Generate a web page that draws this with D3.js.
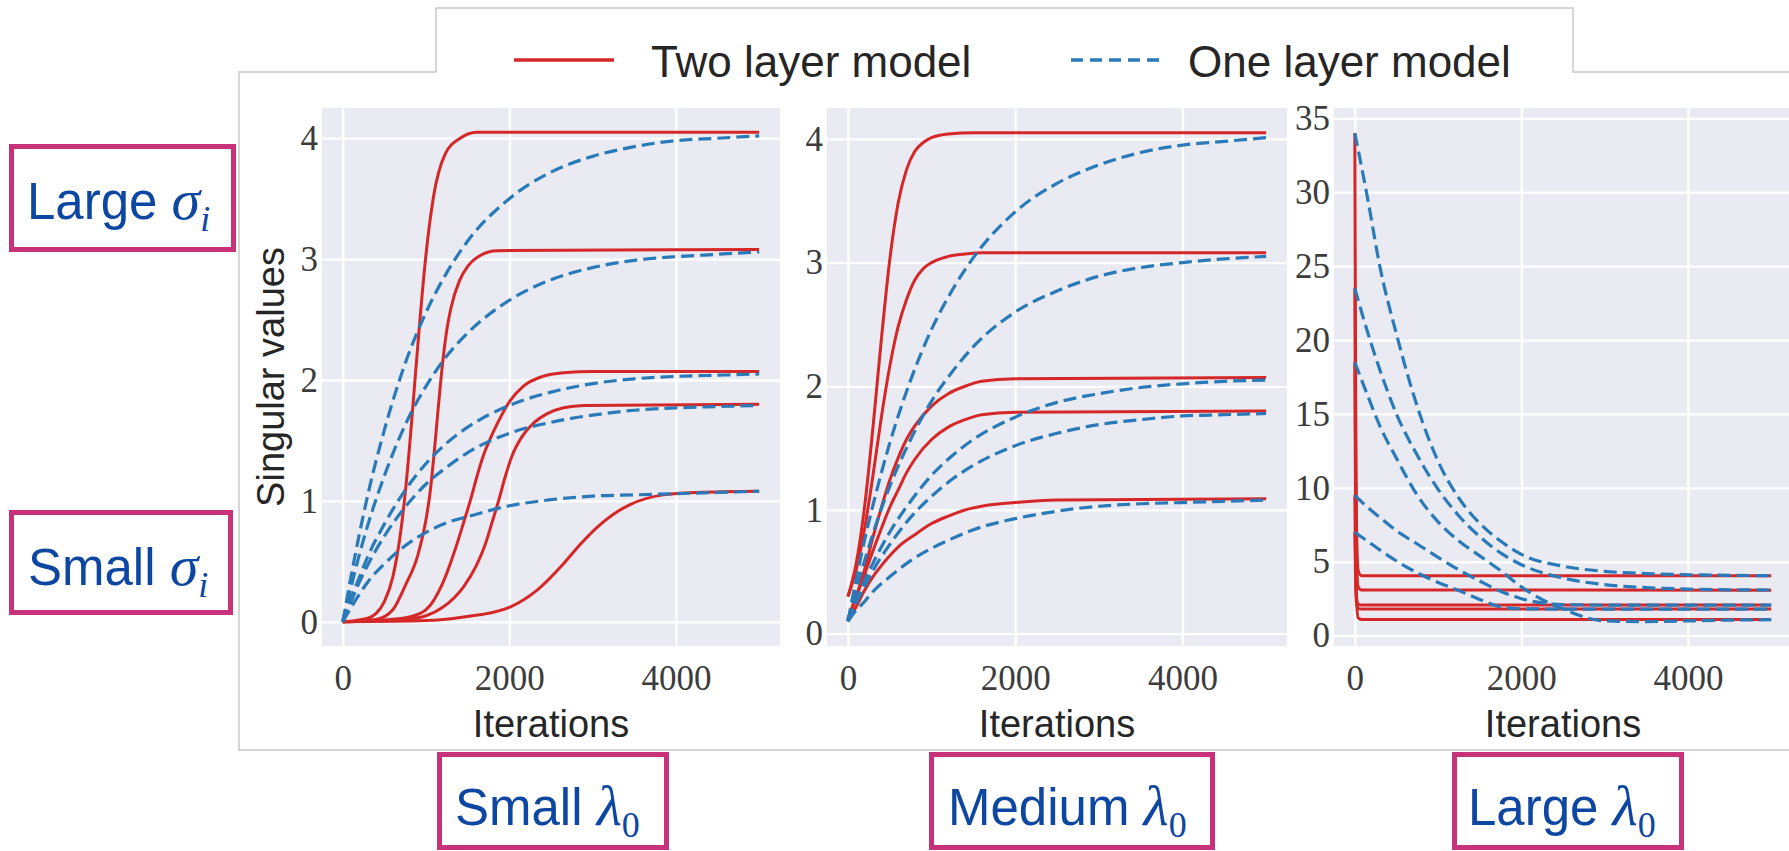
<!DOCTYPE html>
<html>
<head>
<meta charset="utf-8">
<script src="https://cdn.jsdelivr.net/npm/d3@7"></script>
<style>
  body { margin: 0; background: #fff; }
  svg { display: block; }
</style>
</head>
<body>
<svg id="chart" width="1789" height="851"></svg>
<script>
// ---- data ----
const xTicks = [0, 2000, 4000];
const yTicksSmall = [0, 1, 2, 3, 4];
const yTicksLarge = [0, 5, 10, 15, 20, 25, 30, 35];
const legendLabels = ['Two layer model', 'One layer model'];
const columnLabels = ['Small', 'Medium', 'Large'];
const rowLabels = ['Large', 'Small'];

// iterations at which the one layer curves were read
const iterOne = [0, 100, 200, 300, 500, 750, 1000, 1250, 1500, 2000, 2500, 3000, 3500, 4000, 4500, 5000];
const iterLarge = [0, 150, 300, 500, 750, 1000, 1250, 1500, 1750, 2000, 2500, 3000, 3500, 4000, 4500, 5000];

// small lambda0 : [iteration, singular value]
const smallTwoLayer = [
  [[0, 0], [300, 0.03], [400, 0.07], [500, 0.17], [600, 0.37], [700, 0.77], [750, 1.07], [810, 1.52], [870, 2.03], [930, 2.53], [990, 2.98], [1090, 3.52], [1230, 3.87], [1410, 4.0], [1610, 4.05], [5000, 4.05]],
  [[0, 0], [400, 0.02], [600, 0.1], [750, 0.3], [900, 0.55], [1000, 0.85], [1050, 1.08], [1100, 1.42], [1150, 1.8], [1200, 2.15], [1250, 2.42], [1300, 2.6], [1400, 2.82], [1500, 2.94], [1650, 3.03], [1850, 3.07], [5000, 3.08]],
  [[0, 0], [500, 0.015], [800, 0.04], [1000, 0.1], [1200, 0.32], [1350, 0.6], [1450, 0.82], [1530, 1.0], [1610, 1.2], [1690, 1.38], [1780, 1.53], [1870, 1.66], [2000, 1.82], [2170, 1.95], [2400, 2.03], [2650, 2.06], [3000, 2.07], [5000, 2.07]],
  [[0, 0], [500, 0.008], [800, 0.024], [1000, 0.05], [1200, 0.12], [1450, 0.29], [1600, 0.46], [1700, 0.62], [1800, 0.84], [1870, 1.0], [1950, 1.2], [2030, 1.37], [2150, 1.53], [2300, 1.65], [2450, 1.72], [2650, 1.77], [2900, 1.79], [5000, 1.8]],
  [[0, 0], [1000, 0.01], [1450, 0.04], [2000, 0.12], [2330, 0.26], [2650, 0.48], [2850, 0.64], [3050, 0.78], [3250, 0.89], [3450, 0.97], [3850, 1.05], [4250, 1.07], [5000, 1.08]]
];
const smallOneLayer = [
  [0, 0.38, 0.73, 1.05, 1.59, 2.14, 2.56, 2.89, 3.15, 3.5, 3.72, 3.85, 3.93, 3.98, 4.0, 4.02],
  [0, 0.29, 0.56, 0.8, 1.21, 1.63, 1.95, 2.2, 2.39, 2.66, 2.83, 2.93, 2.99, 3.02, 3.04, 3.06],
  [0, 0.2, 0.37, 0.54, 0.81, 1.09, 1.31, 1.48, 1.61, 1.79, 1.9, 1.97, 2.01, 2.03, 2.04, 2.05],
  [0, 0.17, 0.33, 0.47, 0.71, 0.95, 1.14, 1.28, 1.4, 1.56, 1.65, 1.71, 1.75, 1.77, 1.78, 1.79],
  [0, 0.12, 0.23, 0.33, 0.48, 0.63, 0.74, 0.82, 0.87, 0.96, 1.01, 1.04, 1.05, 1.06, 1.07, 1.08]
];

// medium lambda0
const mediumTwoLayer = [
  [[0, 0.3], [100, 0.57], [200, 1.03], [300, 1.67], [400, 2.38], [500, 3.02], [600, 3.48], [700, 3.75], [800, 3.9], [900, 3.97], [1000, 4.01], [1200, 4.04], [1500, 4.05], [5000, 4.05]],
  [[0, 0.3], [100, 0.52], [200, 0.85], [300, 1.28], [400, 1.75], [500, 2.16], [600, 2.48], [700, 2.7], [800, 2.86], [900, 2.95], [1000, 3.0], [1200, 3.05], [1400, 3.07], [1600, 3.08], [5000, 3.08]],
  [[0, 0.12], [100, 0.3], [200, 0.52], [300, 0.78], [400, 1.02], [500, 1.24], [600, 1.42], [700, 1.57], [800, 1.68], [1000, 1.84], [1200, 1.94], [1400, 2.0], [1600, 2.04], [2000, 2.06], [5000, 2.07]],
  [[0, 0.12], [100, 0.3], [200, 0.48], [300, 0.67], [400, 0.85], [500, 1.02], [600, 1.16], [700, 1.3], [800, 1.41], [1000, 1.57], [1200, 1.67], [1400, 1.73], [1600, 1.77], [2000, 1.79], [5000, 1.8]],
  [[0, 0.1], [100, 0.22], [200, 0.35], [300, 0.46], [400, 0.55], [500, 0.63], [600, 0.7], [800, 0.8], [1000, 0.89], [1200, 0.95], [1400, 1.0], [1600, 1.03], [2000, 1.06], [2500, 1.08], [5000, 1.09]]
];
const mediumOneLayer = [
  [0.1, 0.44, 0.76, 1.04, 1.54, 2.05, 2.46, 2.78, 3.04, 3.41, 3.64, 3.79, 3.89, 3.95, 3.98, 4.01],
  [0.1, 0.36, 0.59, 0.81, 1.19, 1.57, 1.88, 2.12, 2.32, 2.6, 2.77, 2.89, 2.96, 3.0, 3.03, 3.05],
  [0.1, 0.27, 0.43, 0.57, 0.82, 1.07, 1.28, 1.44, 1.57, 1.75, 1.87, 1.94, 1.99, 2.02, 2.04, 2.05],
  [0.1, 0.25, 0.38, 0.51, 0.72, 0.94, 1.11, 1.25, 1.36, 1.52, 1.62, 1.69, 1.73, 1.76, 1.77, 1.78],
  [0.1, 0.19, 0.26, 0.34, 0.46, 0.59, 0.69, 0.77, 0.84, 0.93, 0.99, 1.03, 1.05, 1.06, 1.07, 1.08]
];

// large lambda0
const largeTwoLayer = [
  [[0, 34], [10, 16], [20, 7.5], [40, 4.4], [80, 4.06], [5000, 4.05]],
  [[0, 23.5], [10, 11], [20, 5.2], [40, 3.3], [80, 3.09], [5000, 3.08]],
  [[0, 18.5], [10, 7], [20, 2.5], [40, 1.2], [80, 1.1], [5000, 1.09]],
  [[0, 9.5], [10, 4.5], [20, 2.6], [40, 2.12], [80, 2.08], [5000, 2.07]],
  [[0, 7], [10, 3.5], [20, 2.2], [40, 1.85], [80, 1.81], [5000, 1.8]]
];
const largeOneLayer = [
  [34, 29.7, 25, 20.4, 15.5, 11.8, 9.3, 7.6, 6.4, 5.5, 4.7, 4.35, 4.2, 4.12, 4.08, 4.06],
  [23.5, 20.6, 18.0, 15.0, 12.2, 9.9, 8.1, 6.7, 5.6, 4.8, 3.9, 3.45, 3.25, 3.15, 3.1, 3.09],
  [18.5, 16.3, 14.2, 12.0, 9.5, 7.7, 6.4, 5.4, 4.4, 3.3, 1.8, 1.0, 0.95, 1.0, 1.05, 1.08],
  [9.5, 8.7, 8.0, 7.1, 6.2, 5.3, 4.45, 3.7, 3.0, 2.5, 2.1, 2.07, 2.07, 2.07, 2.07, 2.07],
  [7.0, 6.4, 5.8, 5.05, 4.25, 3.6, 3.05, 2.45, 1.95, 1.82, 1.8, 1.8, 1.8, 1.8, 1.8, 1.8]
];

// ---- layout ----
const RED = '#d62728', BLUE = '#2a7ab9', TEXT = '#262626', TICK = '#3c3c3c';
const BOX_STROKE = '#c8327a', BOX_TEXT = '#0d47a1';
const plotTop = 108, plotBottom = 646;

const panels = [
  { left: 322, right: 780, y: [-0.2, 4.25], yTicks: yTicksSmall, two: smallTwoLayer, one: smallOneLayer, iter: iterOne },
  { left: 827, right: 1287, y: [-0.1, 4.25], yTicks: yTicksSmall, two: mediumTwoLayer, one: mediumOneLayer, iter: iterOne },
  { left: 1334, right: 1792, y: [-0.7, 35.7], yTicks: yTicksLarge, two: largeTwoLayer, one: largeOneLayer, iter: iterLarge }
];

const svg = d3.select('#chart');

// white figure frame with the legend tab on top
svg.append('path')
  .attr('d', 'M239,751 V72 H436 V8 H1573 V72 H1789 M239,750 H1789')
  .attr('fill', 'none')
  .attr('stroke', '#c9c9c9')
  .attr('stroke-width', 1.5);

panels.forEach((p, i) => {
  const x = d3.scaleLinear().domain([-250, 5250]).range([p.left, p.right]);
  const y = d3.scaleLinear().domain(p.y).range([plotBottom, plotTop]);
  const g = svg.append('g');

  g.append('rect')
    .attr('x', p.left).attr('y', plotTop)
    .attr('width', p.right - p.left).attr('height', plotBottom - plotTop)
    .attr('fill', '#eaeaf2');

  const xAxis = g.append('g')
    .attr('transform', `translate(0,${plotBottom})`)
    .call(d3.axisBottom(x).tickValues(xTicks).tickSize(-(plotBottom - plotTop)).tickPadding(19).tickFormat(d3.format('d')));
  const yAxis = g.append('g')
    .attr('transform', `translate(${p.left},0)`)
    .call(d3.axisLeft(y).tickValues(p.yTicks).tickSize(-(p.right - p.left)).tickPadding(4).tickFormat(d3.format('d')));

  [xAxis, yAxis].forEach(a => {
    a.select('.domain').remove();
    a.selectAll('line').attr('stroke', '#fff').attr('stroke-width', 2.3);
    a.selectAll('text')
      .attr('fill', TICK)
      .style('font-family', '"Liberation Serif", "DejaVu Serif", serif')
      .style('font-size', '35px');
  });

  g.append('text')
    .attr('x', x(2500)).attr('y', 737)
    .attr('text-anchor', 'middle')
    .attr('fill', TEXT)
    .style('font-family', '"Liberation Sans", Arial, sans-serif')
    .style('font-size', '38px')
    .text('Iterations');

  const clipId = 'clip' + i;
  svg.append('clipPath').attr('id', clipId)
    .append('rect')
    .attr('x', p.left).attr('y', plotTop)
    .attr('width', p.right - p.left).attr('height', plotBottom - plotTop);

  const line = d3.line()
    .x(d => x(d[0]))
    .y(d => y(d[1]))
    .curve(d3.curveMonotoneX);

  const plot = g.append('g').attr('clip-path', `url(#${clipId})`);

  plot.selectAll('path.two')
    .data(p.two)
    .join('path')
    .attr('class', 'two')
    .attr('d', line)
    .attr('fill', 'none')
    .attr('stroke', RED)
    .attr('stroke-width', 3);

  plot.selectAll('path.one')
    .data(p.one.map(vals => vals.map((v, k) => [p.iter[k], v])))
    .join('path')
    .attr('class', 'one')
    .attr('d', line)
    .attr('fill', 'none')
    .attr('stroke', BLUE)
    .attr('stroke-width', 3.2)
    .attr('stroke-dasharray', '13,6');
});

// y label of the first panel
svg.append('text')
  .attr('transform', 'translate(284,377) rotate(-90)')
  .attr('text-anchor', 'middle')
  .attr('fill', TEXT)
  .style('font-family', '"Liberation Sans", Arial, sans-serif')
  .style('font-size', '38px')
  .text('Singular values');

// legend
const legend = svg.append('g')
  .style('font-family', '"Liberation Sans", Arial, sans-serif')
  .style('font-size', '44px')
  .attr('fill', TEXT);
legend.append('line')
  .attr('x1', 514).attr('x2', 614).attr('y1', 60).attr('y2', 60)
  .attr('stroke', RED).attr('stroke-width', 3.5);
legend.append('text').attr('x', 651).attr('y', 77).text(legendLabels[0]);
legend.append('line')
  .attr('x1', 1071).attr('x2', 1162).attr('y1', 60).attr('y2', 60)
  .attr('stroke', BLUE).attr('stroke-width', 3.5).attr('stroke-dasharray', '12,7');
legend.append('text').attr('x', 1188).attr('y', 77).text(legendLabels[1]);

// annotation boxes
function tagBox(bx, by, bw, bh, word, greek, sub, tx, ty) {
  const g = svg.append('g');
  g.append('rect')
    .attr('x', bx + 2.5).attr('y', by + 2.5)
    .attr('width', bw - 5).attr('height', bh - 5)
    .attr('fill', '#fff')
    .attr('stroke', BOX_STROKE)
    .attr('stroke-width', 5);
  const t = g.append('text')
    .attr('x', tx).attr('y', ty)
    .attr('fill', BOX_TEXT)
    .style('font-family', '"Liberation Sans", Arial, sans-serif')
    .style('font-size', '51px');
  t.append('tspan').text(word + ' ');
  t.append('tspan')
    .style('font-family', '"Liberation Serif", "DejaVu Serif", serif')
    .style('font-style', 'italic')
    .style('font-size', '58px')
    .text(greek);
  t.append('tspan')
    .attr('dy', 12)
    .style('font-family', '"Liberation Serif", "DejaVu Serif", serif')
    .style('font-style', greek === 'σ' ? 'italic' : 'normal')
    .style('font-size', '36px')
    .text(sub);
}

tagBox(9, 144, 227, 108, rowLabels[0], 'σ', 'i', 27, 219);
tagBox(9, 510, 224, 105, rowLabels[1], 'σ', 'i', 28, 585);
tagBox(437, 752, 232, 98, columnLabels[0], 'λ', '0', 455, 825);
tagBox(929, 752, 286, 98, columnLabels[1], 'λ', '0', 948, 825);
tagBox(1452, 752, 232, 98, columnLabels[2], 'λ', '0', 1468, 825);
</script>
</body>
</html>
